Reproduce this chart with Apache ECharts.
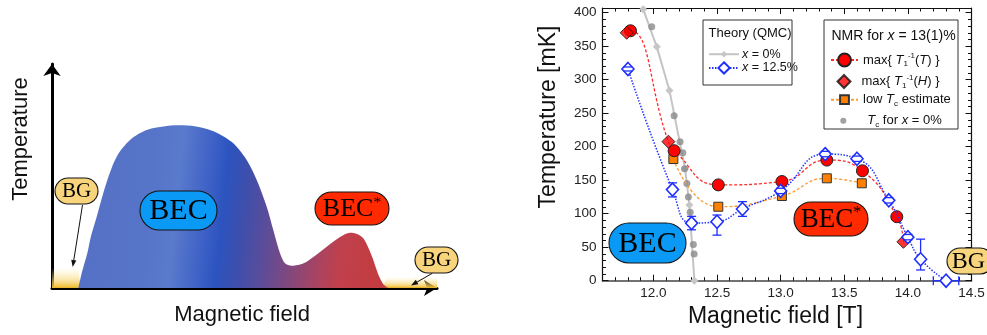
<!DOCTYPE html>
<html><head><meta charset="utf-8">
<script src="https://cdn.jsdelivr.net/npm/echarts@6/dist/echarts.min.js"></script>
<style>html,body{margin:0;padding:0;background:#fff}#c{width:987px;height:335px}</style>
</head><body><div id="c"></div>
<script>
// ================= DATA =================
// Right panel axis tick labels
const xTickLabels = [12.0, 12.5, 13.0, 13.5, 14.0, 14.5];
const yTickLabels = [0, 50, 100, 150, 200, 250, 300, 350, 400];

// Theory (QMC), x = 0%
const theory0B = [11.92, 12.027, 12.126, 12.249, 12.283, 12.322];
const theory0T = [405, 349, 284, 167, 113, 0];

// Theory (QMC), x = 12.5% (with error bars)
const theory12B  = [11.80, 12.15, 12.30, 12.50, 12.70, 13.00, 13.35, 13.60, 13.85, 14.00, 14.10, 14.30];
const theory12T  = [316, 136, 86, 88, 107, 134, 189, 182, 120, 65, 32, 0];
const theory12Lo = [313, 125, 76, 68, 96, 130, 185, 178, 116, 61, 16, 0];
const theory12Hi = [319, 146, 96, 98, 118, 138, 193, 186, 124, 69, 62, 0];
// horizontal error bar (field uncertainty)
const hErrB = [14.30], hErrT = [0], hErrLo = [14.20], hErrHi = [14.40];

// NMR max{T1^-1(T)}
const maxTB = [11.82, 12.163, 12.51, 13.01, 13.363, 13.643, 13.913];
const maxTT = [373, 194, 143, 148, 180, 164, 95.5];
// NMR max{T1^-1(H)}
const maxHB = [11.79, 12.118, 13.965];
const maxHT = [370, 207.5, 58];
// low Tc estimate
const lowTcB = [12.157, 12.51, 13.01, 13.363, 13.638];
const lowTcT = [181.6, 110.4, 126.4, 152.8, 145.4];
// Tc for x = 0%
const tc0B = [11.987, 12.163, 12.21, 12.231, 12.245, 12.263, 12.275, 12.289, 12.314, 12.32];
const tc0T = [379, 246, 207.5, 191, 167, 145, 125, 102, 54, 40];

// Left panel (schematic) phase boundary, arbitrary units (field 0..385, temperature 0..224)
const schemeX = [26.3, 30, 35.3, 39, 44.7, 54.7, 64.7, 78, 94.7, 114.7, 131.3, 148, 164.7, 181.3, 194.7, 204.7, 214.7, 221.3, 228, 233, 239.7, 246, 254.7, 274.7, 288, 298, 305, 311.3, 316, 321.3, 325, 328, 332, 336.3];
const schemeY = [0, 16, 34.7, 52, 71.3, 106, 131.3, 148, 158, 162, 162.7, 160.7, 155.3, 144.7, 128, 108, 81.3, 58, 34.7, 24.7, 22.3, 23, 26.3, 41.3, 51, 55.3, 54, 49.7, 41, 28, 17, 9.7, 3, 0.5];
// Bose-glass bands along the field axis
const bgLeftX = [0, 26.3, 29], bgLeftY = [20, 20, 0];
const bgRightX = [331, 334, 385], bgRightY = [0, 11, 11];

// ================= CHART =================
const sans = "'Liberation Sans', Arial, Helvetica, sans-serif";
const serif = "'Liberation Serif', 'Times New Roman', serif";
const pair = (a, b) => a.map((v, i) => [v, b[i]]);
const range = (a, b, s) => { const r = []; for (let i = a; i <= b; i += s) r.push(i); return r; };
const xMinor = range(116, 145, 1).map(v => v / 10);
const yMinor = range(0, 400, 10);

const chart = echarts.init(document.getElementById('c'));

const redLine = pair(maxTB, maxTT).map(p => ({ value: p }))
  .concat(pair(maxHB, maxHT).map(p => ({ value: p, symbol: 'none' })))
  .sort((a, b) => a.value[0] - b.value[0]);

const errColor = '#1f2fff';
function errV(params, api) {
  const x = api.value(0), y = api.value(1), lo = api.value(2), hi = api.value(3);
  if (hi - lo <= 0) return null;
  const c = api.coord([x, y]), a = api.coord([x, hi]), b = api.coord([x, lo]);
  const cap = 4.5, gap = 6.5, st = { stroke: errColor, lineWidth: 1.3 };
  const ch = [];
  if (c[1] - gap > a[1]) ch.push({ type: 'line', shape: { x1: a[0], y1: a[1], x2: a[0], y2: c[1] - gap }, style: st });
  if (b[1] > c[1] + gap) ch.push({ type: 'line', shape: { x1: b[0], y1: c[1] + gap, x2: b[0], y2: b[1] }, style: st });
  ch.push({ type: 'line', shape: { x1: a[0] - cap, y1: a[1], x2: a[0] + cap, y2: a[1] }, style: st });
  ch.push({ type: 'line', shape: { x1: b[0] - cap, y1: b[1], x2: b[0] + cap, y2: b[1] }, style: st });
  return { type: 'group', children: ch };
}
function errH(params, api) {
  const x = api.value(0), y = api.value(1), lo = api.value(2), hi = api.value(3);
  const c = api.coord([x, y]), a = api.coord([lo, y]), b = api.coord([hi, y]);
  const cap = 4.5, gap = 6.5, st = { stroke: errColor, lineWidth: 1.3 };
  return { type: 'group', children: [
    { type: 'line', shape: { x1: a[0], y1: c[1], x2: c[0] - gap, y2: c[1] }, style: st },
    { type: 'line', shape: { x1: c[0] + gap, y1: c[1], x2: b[0], y2: c[1] }, style: st },
    { type: 'line', shape: { x1: a[0], y1: c[1] - cap, x2: a[0], y2: c[1] + cap }, style: st },
    { type: 'line', shape: { x1: b[0], y1: c[1] - cap, x2: b[0], y2: c[1] + cap }, style: st }
  ] };
}

const tickStyle = { color: '#111', width: 1 };
function xAx(pos, values, len, label, line) {
  return {
    type: 'value', gridIndex: 0, position: pos, min: 11.6, max: 14.5,
    axisLine: { show: line, onZero: false, lineStyle: { color: pos === 'bottom' ? '#444' : '#111', width: pos === 'bottom' ? 1.6 : 1.2 } },
    axisTick: { show: true, inside: true, length: len, customValues: values, lineStyle: tickStyle },
    axisLabel: label ? { show: true, customValues: values, formatter: v => v.toFixed(1), margin: 6, fontSize: 13.5, fontFamily: sans, color: '#222' } : { show: false },
    splitLine: { show: false }, minorTick: { show: false }
  };
}
function yAx(pos, values, len, label, line) {
  return {
    type: 'value', gridIndex: 0, position: pos, min: 0, max: 407,
    axisLine: { show: line, onZero: false, lineStyle: { color: '#111', width: 1.2 } },
    axisTick: { show: true, inside: true, length: len, customValues: values, lineStyle: tickStyle },
    axisLabel: label ? { show: true, customValues: values, formatter: v => String(v), margin: 6, fontSize: 13.5, fontFamily: sans, color: '#222' } : { show: false },
    splitLine: { show: false }, minorTick: { show: false }
  };
}

function richFor(fs) {
  return {
    i: { fontStyle: 'italic', fontFamily: sans, fontSize: fs, color: '#111', lineHeight: 16 },
    n: { fontFamily: sans, fontSize: fs, color: '#111', lineHeight: 16 },
    sub: { fontFamily: sans, fontSize: 8, color: '#111', verticalAlign: 'bottom', lineHeight: 9 },
    sup: { fontFamily: sans, fontSize: 8, color: '#111', verticalAlign: 'top', lineHeight: 9 }
  };
}
function leg(name, left, top, w, h, text, pad, fs) {
  fs = fs || 13;
  return {
    show: true, z: 60, data: [name], left: left, top: top, orient: 'vertical',
    itemWidth: w, itemHeight: h, itemGap: 0, padding: 0, selectedMode: false, symbolKeepAspect: true,
    formatter: () => text,
    textStyle: { fontFamily: sans, fontSize: fs, color: '#111', rich: richFor(fs), padding: pad || 0 }
  };
}

// ---- graphics: bubbles, arrows, titles ----
function bubble(x, y, w, h, fill, text, fs, cx, cy) {
  return [
    { type: 'rect', shape: { x: x, y: y, width: w, height: h, r: h / 2 }, style: { fill: fill, stroke: '#151515', lineWidth: 1.1 }, z: 100 },
    { type: 'text', x: cx, y: cy, z: 101, style: { text: text, fontFamily: serif, fontSize: fs, fill: '#000', align: 'center', verticalAlign: 'middle', textAlign: 'center', textVerticalAlign: 'middle',
      rich: { s: { fontFamily: serif, fontSize: fs * 0.6, verticalAlign: 'top', lineHeight: fs * 0.7, fill: '#000' }, m: { fontFamily: serif, fontSize: fs, lineHeight: fs * 1.1, fill: '#000' } } } }
  ];
}
function arrow(x1, y1, x2, y2) {
  const ang = Math.atan2(y2 - y1, x2 - x1), L = 7, W = 2.6;
  const bx = x2 - L * Math.cos(ang), by = y2 - L * Math.sin(ang);
  const px = -Math.sin(ang) * W, py = Math.cos(ang) * W;
  return [
    { type: 'line', shape: { x1: x1, y1: y1, x2: bx, y2: by }, style: { stroke: '#111', lineWidth: 1 }, z: 100 },
    { type: 'polygon', shape: { points: [[x2, y2], [bx + px, by + py], [bx - px, by - py]] }, style: { fill: '#111' }, z: 100 }
  ];
}
function label(text, x, y, fs, rot, rich) {
  return { type: 'text', x: x, y: y, rotation: rot || 0, z: 100, style: { text: text, fontFamily: sans, fontSize: fs, fill: '#111', align: 'center', verticalAlign: 'middle', textAlign: 'center', textVerticalAlign: 'middle', rich: rich } };
}

const graphics = [].concat(
  // left schematic labels
  [label('Temperature', 21, 139, 22, Math.PI / 2), label('Magnetic field', 242, 315, 22)],
  bubble(55, 178, 43, 26, '#f8d47c', 'BG', 21, 76.5, 191.5),
  bubble(140, 191, 77, 39, '#0a99f5', 'BEC', 30, 178.5, 211),
  bubble(315, 192, 74, 33, '#ff2a00', '{m|BEC}{s|*}', 26, 352, 209),
  bubble(415, 247, 43, 26, '#f8d47c', 'BG', 21, 436.5, 260.5),
  arrow(82.5, 205, 72.7, 267), arrow(432.3, 273.3, 411, 285.5),
  // right panel titles
  [label('Magnetic field [T]', 775.5, 317, 23), label('Temperature [mK]', 549, 117, 23, Math.PI / 2)],
  // legend boxes
  [{ type: 'rect', shape: { x: 703, y: 20, width: 89, height: 65 }, style: { fill: 'rgba(255,255,255,0)', stroke: '#333', lineWidth: 1 }, z: 1 },
   { type: 'rect', shape: { x: 824, y: 20, width: 134, height: 109 }, style: { fill: 'rgba(255,255,255,0)', stroke: '#333', lineWidth: 1 }, z: 1 },
   { type: 'text', x: 708.5, y: 33.5, z: 100, style: { text: 'Theory (QMC)', fontFamily: sans, fontSize: 13, fill: '#111', align: 'left', verticalAlign: 'middle', textAlign: 'left', textVerticalAlign: 'middle' } },
   { type: 'text', x: 831.5, y: 36, z: 100, style: { text: '{n|NMR for }{i|x}{n| = 13(1)%}', fontFamily: sans, fontSize: 14, fill: '#111', align: 'left', verticalAlign: 'middle', textAlign: 'left', textVerticalAlign: 'middle',
     rich: { n: { fontFamily: sans, fontSize: 14, fill: '#111' }, i: { fontFamily: sans, fontSize: 14, fontStyle: 'italic', fill: '#111' } } } }],
  bubble(609, 223, 77, 40, '#0a99f5', 'BEC', 30, 647.5, 244),
  bubble(794, 202, 74, 34, '#ff2a00', '{m|BEC}{s|*}', 27, 831, 220),
  bubble(947, 248, 46, 26, '#f8d47c', 'BG', 24, 968.5, 262)
);

const option = {
  animation: false,
  backgroundColor: '#fff',
  grid: [
    { left: 602.5, top: 8, width: 369, height: 272.7, outerBoundsMode: 'none', containLabel: false },
    { left: 52, top: 64, width: 385, height: 224, outerBoundsMode: 'none', containLabel: false }
  ],
  xAxis: [
    xAx('bottom', xTickLabels, 6, true, true),
    xAx('bottom', xMinor, 3.5, false, false),
    xAx('top', xTickLabels, 6, false, true),
    xAx('top', xMinor, 3.5, false, false),
    { type: 'value', gridIndex: 1, min: 0, max: 385, axisLine: { show: true, onZero: false, symbol: ['none', 'arrow'], symbolSize: [12, 13], lineStyle: { color: '#000', width: 3 } },
      axisTick: { show: false }, axisLabel: { show: false }, splitLine: { show: false } }
  ],
  yAxis: [
    yAx('left', yTickLabels, 6, true, true),
    yAx('left', yMinor, 3.5, false, false),
    yAx('right', yTickLabels, 6, false, true),
    yAx('right', yMinor, 3.5, false, false),
    { type: 'value', gridIndex: 1, min: 0, max: 224, axisLine: { show: true, onZero: false, symbol: ['none', 'arrow'], symbolSize: [13, 12], lineStyle: { color: '#000', width: 3 } },
      axisTick: { show: false }, axisLabel: { show: false }, splitLine: { show: false } }
  ],
  legend: [
    leg('t0', 708, 47.7, 30, 8, '{i|x}{n| = 0%}', [0, 0, 0, -2], 12.5),
    leg('t12', 708, 61.3, 30, 14, '{i|x}{n| = 12.5%}', [0, 0, 0, -2], 12.5),
    leg('maxT', 830, 52, 27, 16, '{n|max\{ }{i|T}{sub|1}{sup|-1}{n|(}{i|T}{n|) \}}'),
    leg('maxH', 836.5, 73.5, 13, 13, '{n|max\{ }{i|T}{sub|1}{sup|-1}{n|(}{i|H}{n|) \}}', [0, 0, 0, 6]),
    leg('lowTc', 830, 93.2, 27, 11, '{n|low }{i|T}{sub|c}{n| estimate}'),
    leg('tc0', 840.3, 114.3, 6, 6, '{i|T}{sub|c}{n| for }{i|x}{n| = 0%}', [0, 0, 0, 16])
  ],
  graphic: { elements: graphics },
  series: [
    // ---- left schematic ----
    { type: 'line', xAxisIndex: 4, yAxisIndex: 4, data: pair(bgLeftX, bgLeftY), symbol: 'none', silent: true, lineStyle: { width: 0 },
      areaStyle: { opacity: 1, color: new echarts.graphic.LinearGradient(0, 0, 0, 1, [{ offset: 0, color: 'rgba(252,225,140,0)' }, { offset: 0.6, color: 'rgba(248,212,110,0.6)' }, { offset: 1, color: 'rgba(240,185,40,1)' }]) } },
    { type: 'line', xAxisIndex: 4, yAxisIndex: 4, data: pair(bgRightX, bgRightY), symbol: 'none', silent: true, lineStyle: { width: 0 },
      areaStyle: { opacity: 1, color: new echarts.graphic.LinearGradient(0, 0, 0, 1, [{ offset: 0, color: 'rgba(252,225,140,0)' }, { offset: 0.6, color: 'rgba(248,212,110,0.6)' }, { offset: 1, color: 'rgba(240,185,40,1)' }]) } },
    { type: 'line', xAxisIndex: 4, yAxisIndex: 4, data: pair(schemeX, schemeY), smooth: 0.3, symbol: 'none', silent: true, lineStyle: { width: 0 },
      areaStyle: { opacity: 1, color: new echarts.graphic.LinearGradient(0, 0, 1, 0.2, [
        { offset: 0, color: '#5470c4' }, { offset: 0.25, color: '#5674c8' }, { offset: 0.34, color: '#5a7acc' },
        { offset: 0.44, color: '#3c60c6' }, { offset: 0.49, color: '#2c53bf' }, { offset: 0.56, color: '#3f4fab' },
        { offset: 0.64, color: '#5e4c98' }, { offset: 0.72, color: '#80487e' }, { offset: 0.81, color: '#a84462' },
        { offset: 0.88, color: '#c0404c' }, { offset: 1, color: '#c23c40' }]) } },
    // ---- right panel ----
    { name: 't0', type: 'line', xAxisIndex: 0, yAxisIndex: 0, data: pair(theory0B, theory0T), symbol: 'diamond', symbolSize: 8,
      itemStyle: { color: '#c6c6c6' }, lineStyle: { color: '#c4c4c4', width: 2 }, z: 2 },
    { name: 'tc0', type: 'scatter', xAxisIndex: 0, yAxisIndex: 0, data: pair(tc0B, tc0T), symbol: 'circle', symbolSize: 7,
      itemStyle: { color: '#8a8a8a' }, z: 3 },
    { name: 'lowTc', type: 'line', xAxisIndex: 0, yAxisIndex: 0, data: pair(lowTcB, lowTcT), smooth: 0.5, symbol: 'rect', symbolSize: 9,
      itemStyle: { color: '#ff8000', borderColor: '#333', borderWidth: 1 }, lineStyle: { color: '#ff9a30', width: 1.3, type: [3, 2] }, z: 4 },
    { name: 'maxT', type: 'line', xAxisIndex: 0, yAxisIndex: 0, data: redLine, smooth: 0.5, symbol: 'circle', symbolSize: 12,
      itemStyle: { color: '#ff0000', borderColor: '#222', borderWidth: 1 }, lineStyle: { color: '#ff2a2a', width: 1.3, type: [3, 2] }, z: 5 },
    { name: 'maxH', type: 'scatter', xAxisIndex: 0, yAxisIndex: 0, data: pair(maxHB, maxHT), symbol: 'diamond', symbolSize: 13,
      itemStyle: { color: '#ff0000', borderColor: '#111', borderWidth: 1 }, z: 6 },
    { name: 't12', type: 'line', xAxisIndex: 0, yAxisIndex: 0, data: pair(theory12B, theory12T), smooth: 0.5, symbol: 'diamond', symbolSize: [12, 13],
      itemStyle: { color: '#fff', borderColor: '#1f2fff', borderWidth: 1.6 }, lineStyle: { color: '#2233ff', width: 1.5, type: [1.5, 1.5] }, z: 7 },
    { type: 'custom', xAxisIndex: 0, yAxisIndex: 0, renderItem: errV, silent: true, z: 8,
      data: theory12B.map((b, i) => [b, theory12T[i], theory12Lo[i], theory12Hi[i]]) },
    { type: 'custom', xAxisIndex: 0, yAxisIndex: 0, renderItem: errH, silent: true, z: 8,
      data: hErrB.map((b, i) => [b, hErrT[i], hErrLo[i], hErrHi[i]]) }
  ]
};
chart.setOption(option);
</script></body></html>
